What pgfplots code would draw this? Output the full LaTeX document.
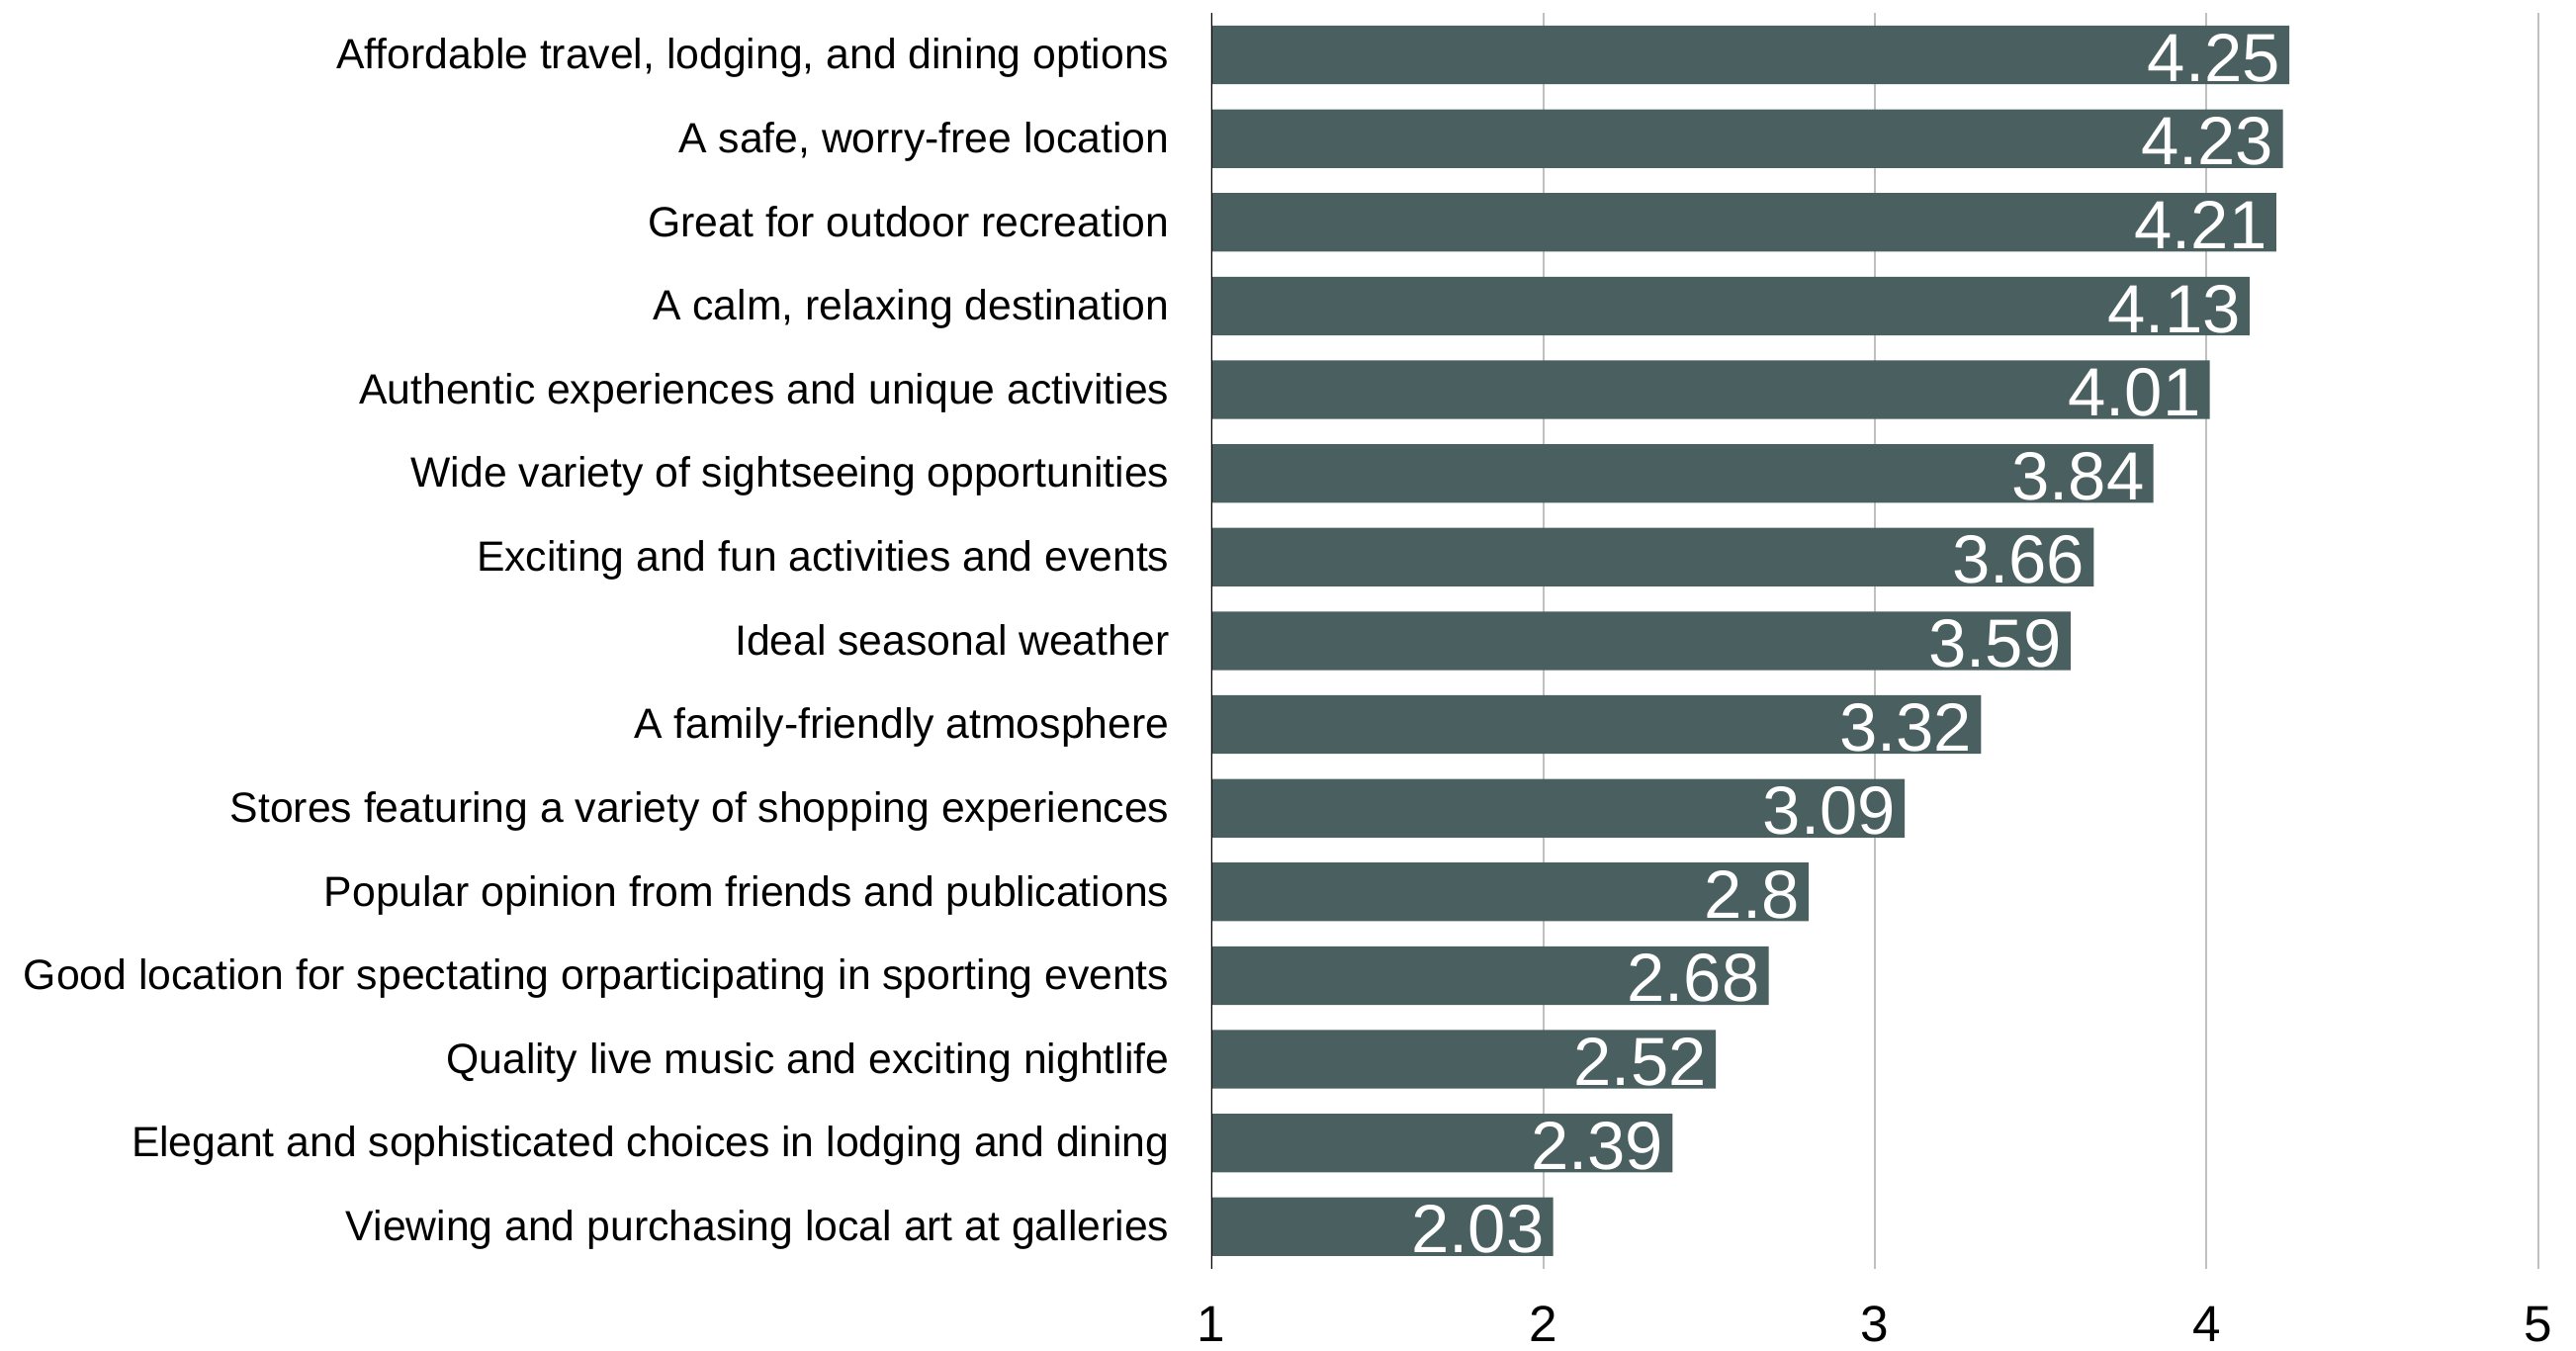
\documentclass[border=0pt]{standalone}
\usepackage{fontspec}
\setmainfont{Liberation Sans}
\usepackage{pgfplots}
\pgfplotsset{compat=1.18}
\definecolor{barcol}{HTML}{4A5F60}
\definecolor{gridcol}{HTML}{C0C0C0}

\begin{document}
\begin{tikzpicture}
\useasboundingbox (-368.75bp,-25bp) rectangle (415.25bp,386bp);
\begin{axis}[
    scale only axis,
    width=403.75bp, height=382bp,
    xmin=1, xmax=5,
    ymin=-0.5, ymax=14.5,
    xbar, bar width=0.70, bar shift=0pt,
    /pgf/number format/assume math mode=true,
    axis line style={draw=none},
    major tick length=0pt,
    xtick={1,2,3,4,5},
    ytick={0,...,14},
    yticklabels={
      Viewing and purchasing local art at galleries,
      Elegant and sophisticated choices in lodging and dining,
      Quality live music and exciting nightlife,
      Good location for spectating orparticipating in sporting events,
      Popular opinion from friends and publications,
      Stores featuring a variety of shopping experiences,
      A family-friendly atmosphere,
      Ideal seasonal weather,
      Exciting and fun activities and events,
      Wide variety of sightseeing opportunities,
      Authentic experiences and unique activities,
      {A calm, relaxing destination},
      Great for outdoor recreation,
      {A safe, worry-free location},
      {Affordable travel, lodging, and dining options}},
    xmajorgrids,
    grid style={draw=gridcol, line width=0.6bp},
    xticklabel style={font=\fontsize{15.5}{15.5}\selectfont, inner sep=0pt, anchor=north, yshift=-11.3bp},
    yticklabel style={font=\fontsize{12.9}{12.9}\selectfont, inner sep=0pt, anchor=base east, xshift=-12.7bp, yshift=-4.3bp},
]
\addplot[fill=barcol, draw=none,
    nodes near coords,
    nodes near coords align={anchor=base east, inner sep=0pt, xshift=-2.6bp, yshift=-8bp},
    every node near coord/.append style={text=white, font=\fontsize{20.8}{20.8}\selectfont},
] coordinates {
    (2.03,0) (2.39,1) (2.52,2) (2.68,3) (2.8,4) (3.09,5) (3.32,6) (3.59,7)
    (3.66,8) (3.84,9) (4.01,10) (4.13,11) (4.21,12) (4.23,13) (4.25,14)
};
\draw[black, line width=0.6bp] (rel axis cs:0,0) -- (rel axis cs:0,1);
\end{axis}
\end{tikzpicture}
\end{document}
